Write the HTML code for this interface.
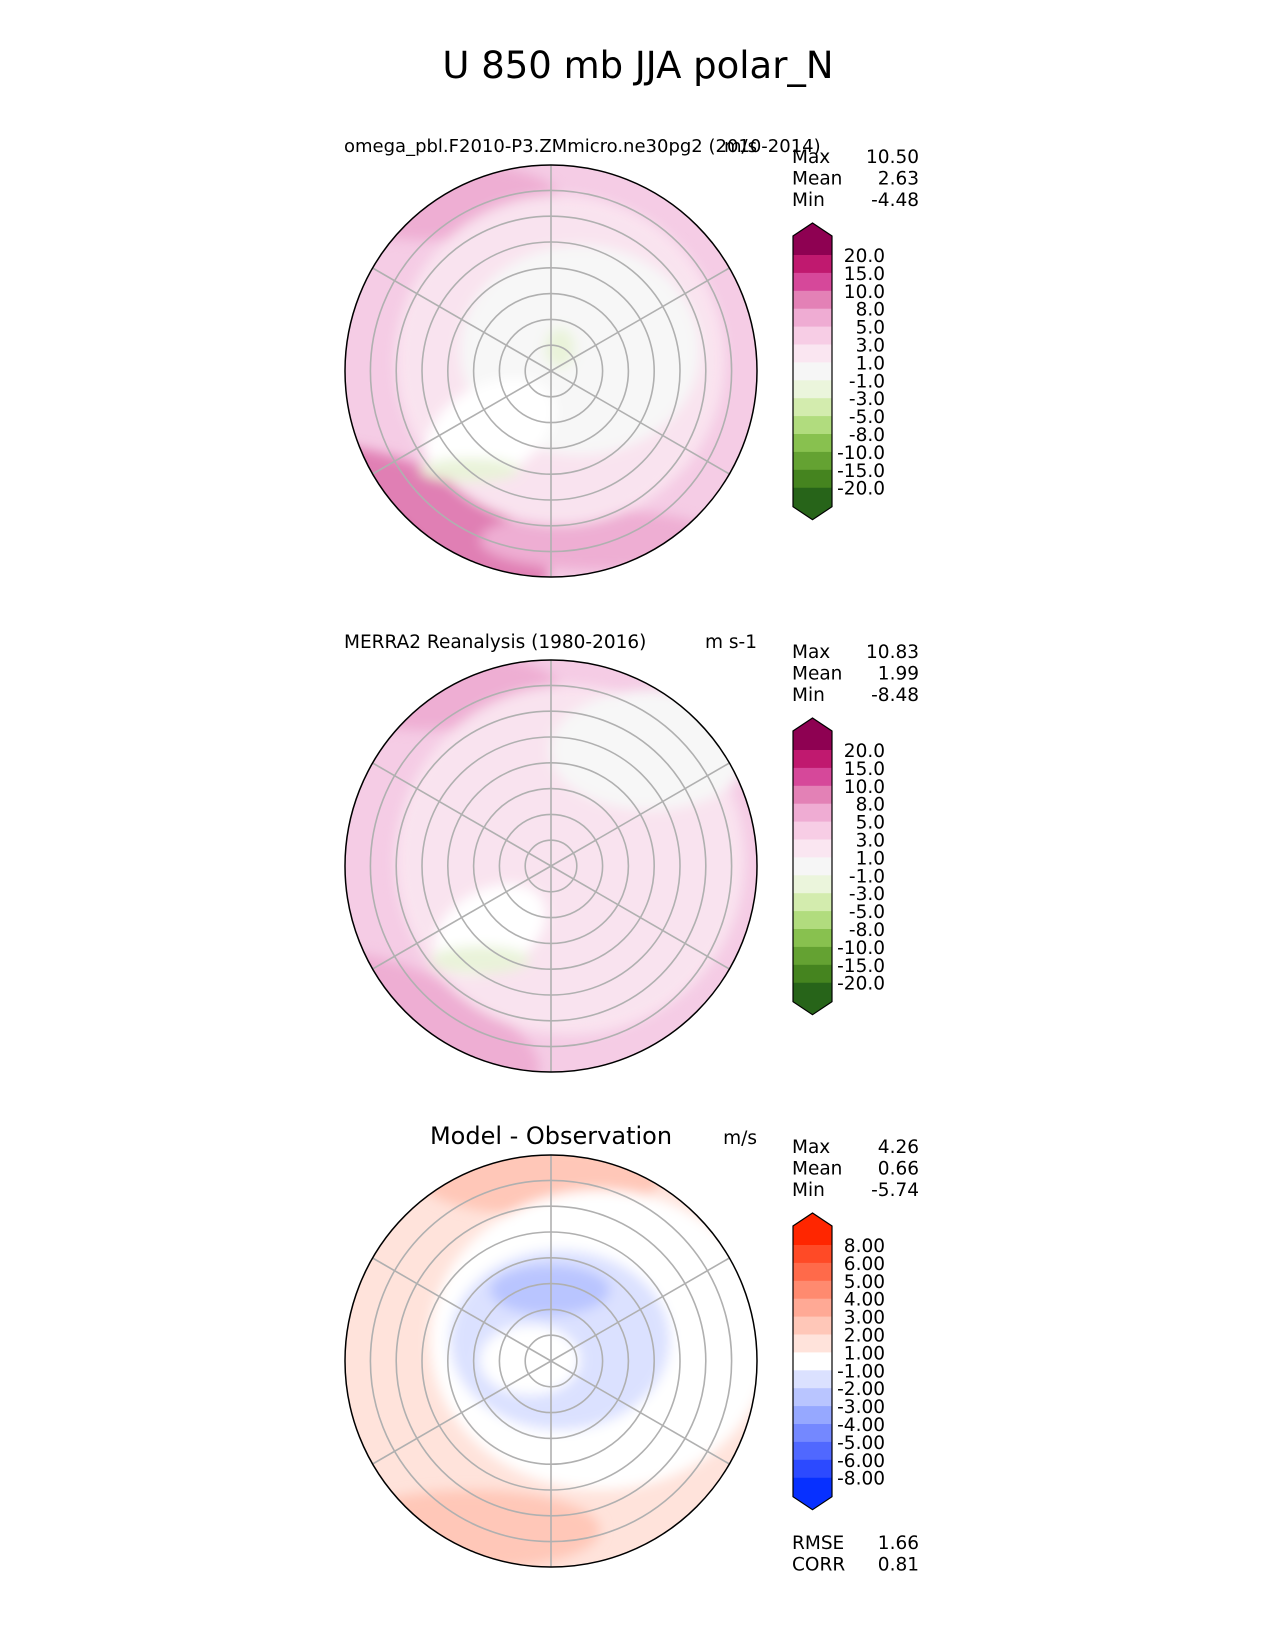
<!DOCTYPE html>
<html><head><meta charset="utf-8">
<style>
body{margin:0;background:#fff;}
svg{display:block;font-family:"DejaVu Sans","Liberation Sans",sans-serif;}
</style></head>
<body>
<svg id="fig" width="1275" height="1650" viewBox="0 0 1275 1650" xmlns="http://www.w3.org/2000/svg">
<text x="638" y="78" font-size="37" text-anchor="middle">U 850 mb JJA polar_N</text>
<defs>
<clipPath id="c1"><circle cx="551" cy="371" r="206"/></clipPath>
<clipPath id="c2"><circle cx="551" cy="866" r="206"/></clipPath>
<clipPath id="c3"><circle cx="551" cy="1361" r="206"/></clipPath>
<filter id="bl"><feGaussianBlur stdDeviation="6"/></filter>
</defs>
<g clip-path="url(#c1)">
<rect x="340" y="160" width="420" height="420" fill="#f5cce5"/>
<g filter="url(#bl)">
<ellipse cx="430" cy="200" rx="130" ry="40" fill="#eeaed3"/>
<ellipse cx="420" cy="520" rx="140" ry="50" fill="#e07fb4" transform="rotate(25 420 520)"/>
<ellipse cx="380" cy="540" rx="50" ry="25" fill="#d0438f" transform="rotate(30 380 540)"/>
<ellipse cx="600" cy="540" rx="120" ry="30" fill="#eeaed3"/>
<circle cx="560" cy="360" r="165" fill="#f9e3ef"/>
<ellipse cx="580" cy="350" rx="120" ry="105" fill="#f7f7f7"/>
<ellipse cx="490" cy="430" rx="70" ry="45" fill="#ffffff" transform="rotate(-30 490 430)"/>
<ellipse cx="470" cy="470" rx="50" ry="12" fill="#e9f3d9"/>
<ellipse cx="560" cy="348" rx="15" ry="20" fill="#e9f3d9"/>
</g>
</g>
<g clip-path="url(#c2)">
<rect x="340" y="655" width="420" height="420" fill="#f5cce5"/>
<g filter="url(#bl)">
<ellipse cx="430" cy="690" rx="130" ry="40" fill="#eeaed3"/>
<ellipse cx="420" cy="1020" rx="130" ry="45" fill="#eeaed3" transform="rotate(25 420 1020)"/>
<circle cx="570" cy="860" r="175" fill="#f9e3ef"/>
<ellipse cx="650" cy="750" rx="100" ry="60" fill="#f7f7f7"/>
<ellipse cx="490" cy="930" rx="60" ry="40" fill="#ffffff" transform="rotate(-30 490 930)"/>
<ellipse cx="480" cy="960" rx="50" ry="14" fill="#e9f3d9"/>
</g>
</g>
<g clip-path="url(#c3)">
<rect x="340" y="1150" width="420" height="420" fill="#ffe3db"/>
<g filter="url(#bl)">
<ellipse cx="540" cy="1180" rx="120" ry="35" fill="#ffc7b8"/>
<ellipse cx="470" cy="1530" rx="130" ry="40" fill="#ffc7b8"/>
<ellipse cx="600" cy="1340" rx="170" ry="150" fill="#ffffff"/>
<ellipse cx="560" cy="1340" rx="110" ry="90" fill="#dbe1ff"/>
<ellipse cx="550" cy="1290" rx="60" ry="25" fill="#b9c5ff"/>
<ellipse cx="530" cy="1360" rx="50" ry="35" fill="#ffffff"/>
</g>
</g>
<g id="grids"></g>
<g id="cbars"></g>
</svg>
<script>
const cbLevels1 = ["20.0","15.0","10.0","8.0","5.0","3.0","1.0","-1.0","-3.0","-5.0","-8.0","-10.0","-15.0","-20.0"];
const cbColors1 = ["#8e0152","#c0196f","#d6489a","#e381b6","#efacd3","#f7cde5","#fae6f1","#f6f6f6","#ebf5dc","#d3ecae","#b1dc7e","#88c14f","#64a232","#45841f","#276419"];
const cbLevels3 = ["8.00","6.00","5.00","4.00","3.00","2.00","1.00","-1.00","-2.00","-3.00","-4.00","-5.00","-6.00","-8.00"];
const cbColors3 = ["#ff2600","#ff4a26","#ff6a4a","#ff8a6f","#ffa995","#ffc7b8","#ffe3db","#ffffff","#dbe1ff","#b9c5ff","#96a8ff","#7488ff","#5068ff","#2c4aff","#0730ff"];
const statLabels = ["Max","Mean","Min"];
const stats1 = ["10.50","2.63","-4.48"];
const stats2 = ["10.83","1.99","-8.48"];
const stats3 = ["4.26","0.66","-5.74"];
const errLabels = ["RMSE","CORR"];
const errValues = ["1.66","0.81"];

const NS="http://www.w3.org/2000/svg";
const svg=document.getElementById('fig');
function mk(tag,attrs,parent){const e=document.createElementNS(NS,tag);for(const k in attrs)e.setAttribute(k,attrs[k]);(parent||svg).appendChild(e);return e;}
function txt(s,attrs){const e=mk('text',attrs);e.textContent=s;return e;}

const cx=551, R=206, cys=[371,866,1361];
cys.forEach((cy,i)=>{
  const g=mk('g',{});
  
  
  for(let k=1;k<=7;k++){mk('circle',{cx:cx,cy:cy,r:k*25.8,fill:'none',stroke:'#b0b0b0','stroke-width':1.6},g);}
  [30,90,150,210,270,330].forEach(a=>{const r=a*Math.PI/180;mk('line',{x1:cx,y1:cy,x2:cx+R*Math.cos(r),y2:cy-R*Math.sin(r),stroke:'#b0b0b0','stroke-width':1.6},g);});
  const b=mk('circle',{cx:cx,cy:cy,r:R,fill:'none',stroke:'#000','stroke-width':1.5});
  
  
});

function colorbar(levels,colors,top,name){
  const x0=793,w=39,bh=17.9, n=levels.length-1;
  const g=mk('g',{});
  
  
  const y0=top, yEnd=top+n*bh;
  mk('polygon',{points:`${x0},${y0} ${x0},${y0-19} ${x0+w/2},${y0-32} ${x0+w},${y0-19} ${x0+w},${y0}`,fill:colors[0]},g);
  for(let i=0;i<n;i++) mk('rect',{x:x0,y:y0+i*bh,width:w,height:bh+0.5,fill:colors[i+1]},g);
  mk('polygon',{points:`${x0},${yEnd} ${x0},${yEnd+19} ${x0+w/2},${yEnd+32} ${x0+w},${yEnd+19} ${x0+w},${yEnd}`,fill:colors[n+1]},g);
  mk('polygon',{points:`${x0},${y0} ${x0},${y0-19} ${x0+w/2},${y0-32} ${x0+w},${y0-19} ${x0+w},${yEnd+19} ${x0+w/2},${yEnd+32} ${x0},${yEnd+19}`,fill:'none',stroke:'#000','stroke-width':1.2},g);
  levels.forEach((l,i)=>{const t=txt(l,{x:885,y:y0+i*bh+7,'font-size':18.5,'text-anchor':'end'});});
}
colorbar(cbLevels1,cbColors1,255,'colorbar-model');
colorbar(cbLevels1,cbColors1,750,'colorbar-obs');
colorbar(cbLevels3,cbColors3,1245,'colorbar-diff');

function statBlock(vals,top){
  statLabels.forEach((s,i)=>{
    const a=txt(s,{x:792,y:top+i*21.5,'font-size':18.5});
    const b=txt(vals[i],{x:919,y:top+i*21.5,'font-size':18.5,'text-anchor':'end'});
  });
}
statBlock(stats1,163);statBlock(stats2,658);statBlock(stats3,1153);
errLabels.forEach((s,i)=>{
  const a=txt(s,{x:792,y:1549+i*21.5,'font-size':18.5});
  const b=txt(errValues[i],{x:919,y:1549+i*21.5,'font-size':18.5,'text-anchor':'end'});
});
let t;
t=txt('omega_pbl.F2010-P3.ZMmicro.ne30pg2 (2010-2014)',{x:344,y:152,'font-size':18});
t=txt('m/s',{x:757,y:152,'font-size':18,'text-anchor':'end'});
t=txt('MERRA2 Reanalysis (1980-2016)',{x:344,y:648,'font-size':18.5});
t=txt('m s-1',{x:757,y:648,'font-size':18.5,'text-anchor':'end'});
t=txt('Model - Observation',{x:551,y:1144,'font-size':24,'text-anchor':'middle'});
t=txt('m/s',{x:757,y:1144,'font-size':18.5,'text-anchor':'end'});
</script>
</body></html>
